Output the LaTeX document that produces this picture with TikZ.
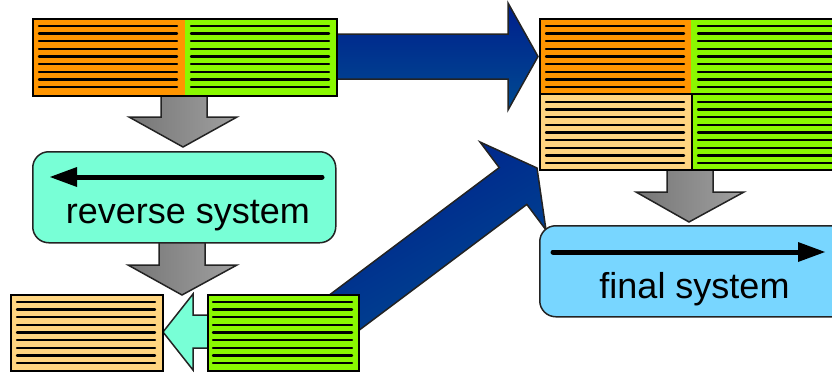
\documentclass[tikz,border=0pt]{standalone}
\usepackage{fontspec}
\setmainfont{Liberation Sans}
\definecolor{cOrange}{RGB}{255,149,0}
\definecolor{cGreen}{RGB}{138,248,0}
\definecolor{cPeach}{RGB}{255,213,128}
\definecolor{cCyan}{RGB}{120,255,214}
\definecolor{cSky}{RGB}{120,214,255}
\definecolor{cBlueA}{RGB}{0,30,140}
\definecolor{cBlueB}{RGB}{0,75,145}
\definecolor{cGrayA}{RGB}{118,118,118}
\definecolor{cGrayB}{RGB}{160,160,160}
\definecolor{cEdge}{RGB}{35,35,35}
\begin{document}
\begin{tikzpicture}[x=1pt,y=-1pt,
  edge/.style={draw=cEdge, line width=1.5pt, line join=miter},
  stripe/.style={line width=2.4pt, line cap=round, black},
  grayarrow/.style={edge, left color=cGrayA, right color=cGrayB},
  bluearrow/.style={edge, top color=cBlueA, bottom color=cBlueB},
  sysbox/.style={edge, rounded corners=16pt, inner sep=0pt},
  cell/.style={inner sep=0pt, anchor=north west},
  outline/.style={draw=black, line width=1.5pt, inner sep=0pt, anchor=north west},
  label/.style={font=\fontsize{36}{40}\selectfont, anchor=base, inner sep=0pt}]
\useasboundingbox (0,0) rectangle (832,372);
\clip (0,0) rectangle (832,372);

% blue arrows
\draw[bluearrow] (300,34) -- (508,34) -- (508,3) -- (538,56.5) -- (508,110) -- (508,79) -- (300,79) -- cycle;
\draw[bluearrow, shading angle=30] (315.2,305.6) -- (499.2,167.6) -- (480,142) -- (537,168) -- (546,230) -- (526.8,204.4) -- (342.8,342.4) -- cycle;

% gray arrows
\draw[grayarrow] (161,90) -- (207,90) -- (207,117) -- (237,117) -- (183,147) -- (129,117) -- (161,117) -- cycle;
\draw[grayarrow] (159,238) -- (205,238) -- (205,265) -- (237,265) -- (182,295) -- (128,265) -- (159,265) -- cycle;
\draw[grayarrow] (667,165) -- (713,165) -- (713,192) -- (744,192) -- (689,222) -- (636,192) -- (667,192) -- cycle;

% cyan small arrow
\draw[edge, fill=cCyan] (212,315) -- (193,315) -- (193,294) -- (163,332) -- (193,370) -- (193,348) -- (212,348);

% top-left block
\node[cell, fill=cOrange, minimum width=153pt, minimum height=77pt] (tlo) at (32,18) {};
\node[cell, fill=cGreen, minimum width=151pt, minimum height=77pt] (tlg) at (185,18) {};
\node[outline, minimum width=304pt, minimum height=77pt] (tl) at (32,18) {};
\foreach \i in {0,...,8} {
  \draw[stripe] (39,26+\i*7.625) -- (177,26+\i*7.625);
  \draw[stripe] (191,26+\i*7.625) -- (329,26+\i*7.625);
}

% right block
\node[cell, fill=cOrange, minimum width=152pt, minimum height=76pt] (ro) at (539,18) {};
\node[cell, fill=cGreen, minimum width=160pt, minimum height=76pt] (rg) at (691,18) {};
\node[cell, fill=cPeach, minimum width=153pt, minimum height=75pt] (rp) at (539,94) {};
\node[cell, fill=cGreen, minimum width=160pt, minimum height=75pt] (rg2) at (692,94) {};
\node[outline, minimum width=311pt, minimum height=151pt] (rb) at (539,18) {};
\draw[black, line width=1.5pt] (rb.west |- 0,94) -- (rb.east |- 0,94);
\draw[black, line width=1.5pt] (692,94) -- (rb.south -| 692,0);
\foreach \i in {0,...,8} {
  \draw[stripe] (546,26+\i*7.625) -- (684,26+\i*7.625);
  \draw[stripe] (698,26+\i*7.625) -- (850,26+\i*7.625);
  \draw[stripe] (546,102+\i*7.625) -- (684,102+\i*7.625);
  \draw[stripe] (698,102+\i*7.625) -- (850,102+\i*7.625);
}

% bottom blocks
\node[outline, fill=cPeach, minimum width=152pt, minimum height=76pt] (bp) at (10,294) {};
\node[outline, fill=cGreen, minimum width=151pt, minimum height=76pt] (bg) at (207,294) {};
\foreach \i in {0,...,8} {
  \draw[stripe] (17,302+\i*7.625) -- (155,302+\i*7.625);
  \draw[stripe] (213,302+\i*7.625) -- (352,302+\i*7.625);
}

% reverse system box
\node[sysbox, fill=cCyan, minimum width=303pt, minimum height=91pt, anchor=north west] (rev) at (32,151) {};
\draw[black, line width=5pt, line cap=round] (322,177) -- (75,177);
\fill[black] (77,167) -- (50,177) -- (77,187) -- cycle;
\node[label] (revtext) at (188,223) {reverse system};

% final system box
\node[sysbox, fill=cSky, minimum width=311pt, minimum height=91pt, anchor=north west] (fin) at (539,225) {};
\draw[black, line width=5pt, line cap=round] (553,252) -- (800,252);
\fill[black] (798,242) -- (825,252) -- (798,262) -- cycle;
\node[label] (fintext) at (694.5,298) {final system};
\end{tikzpicture}
\end{document}
